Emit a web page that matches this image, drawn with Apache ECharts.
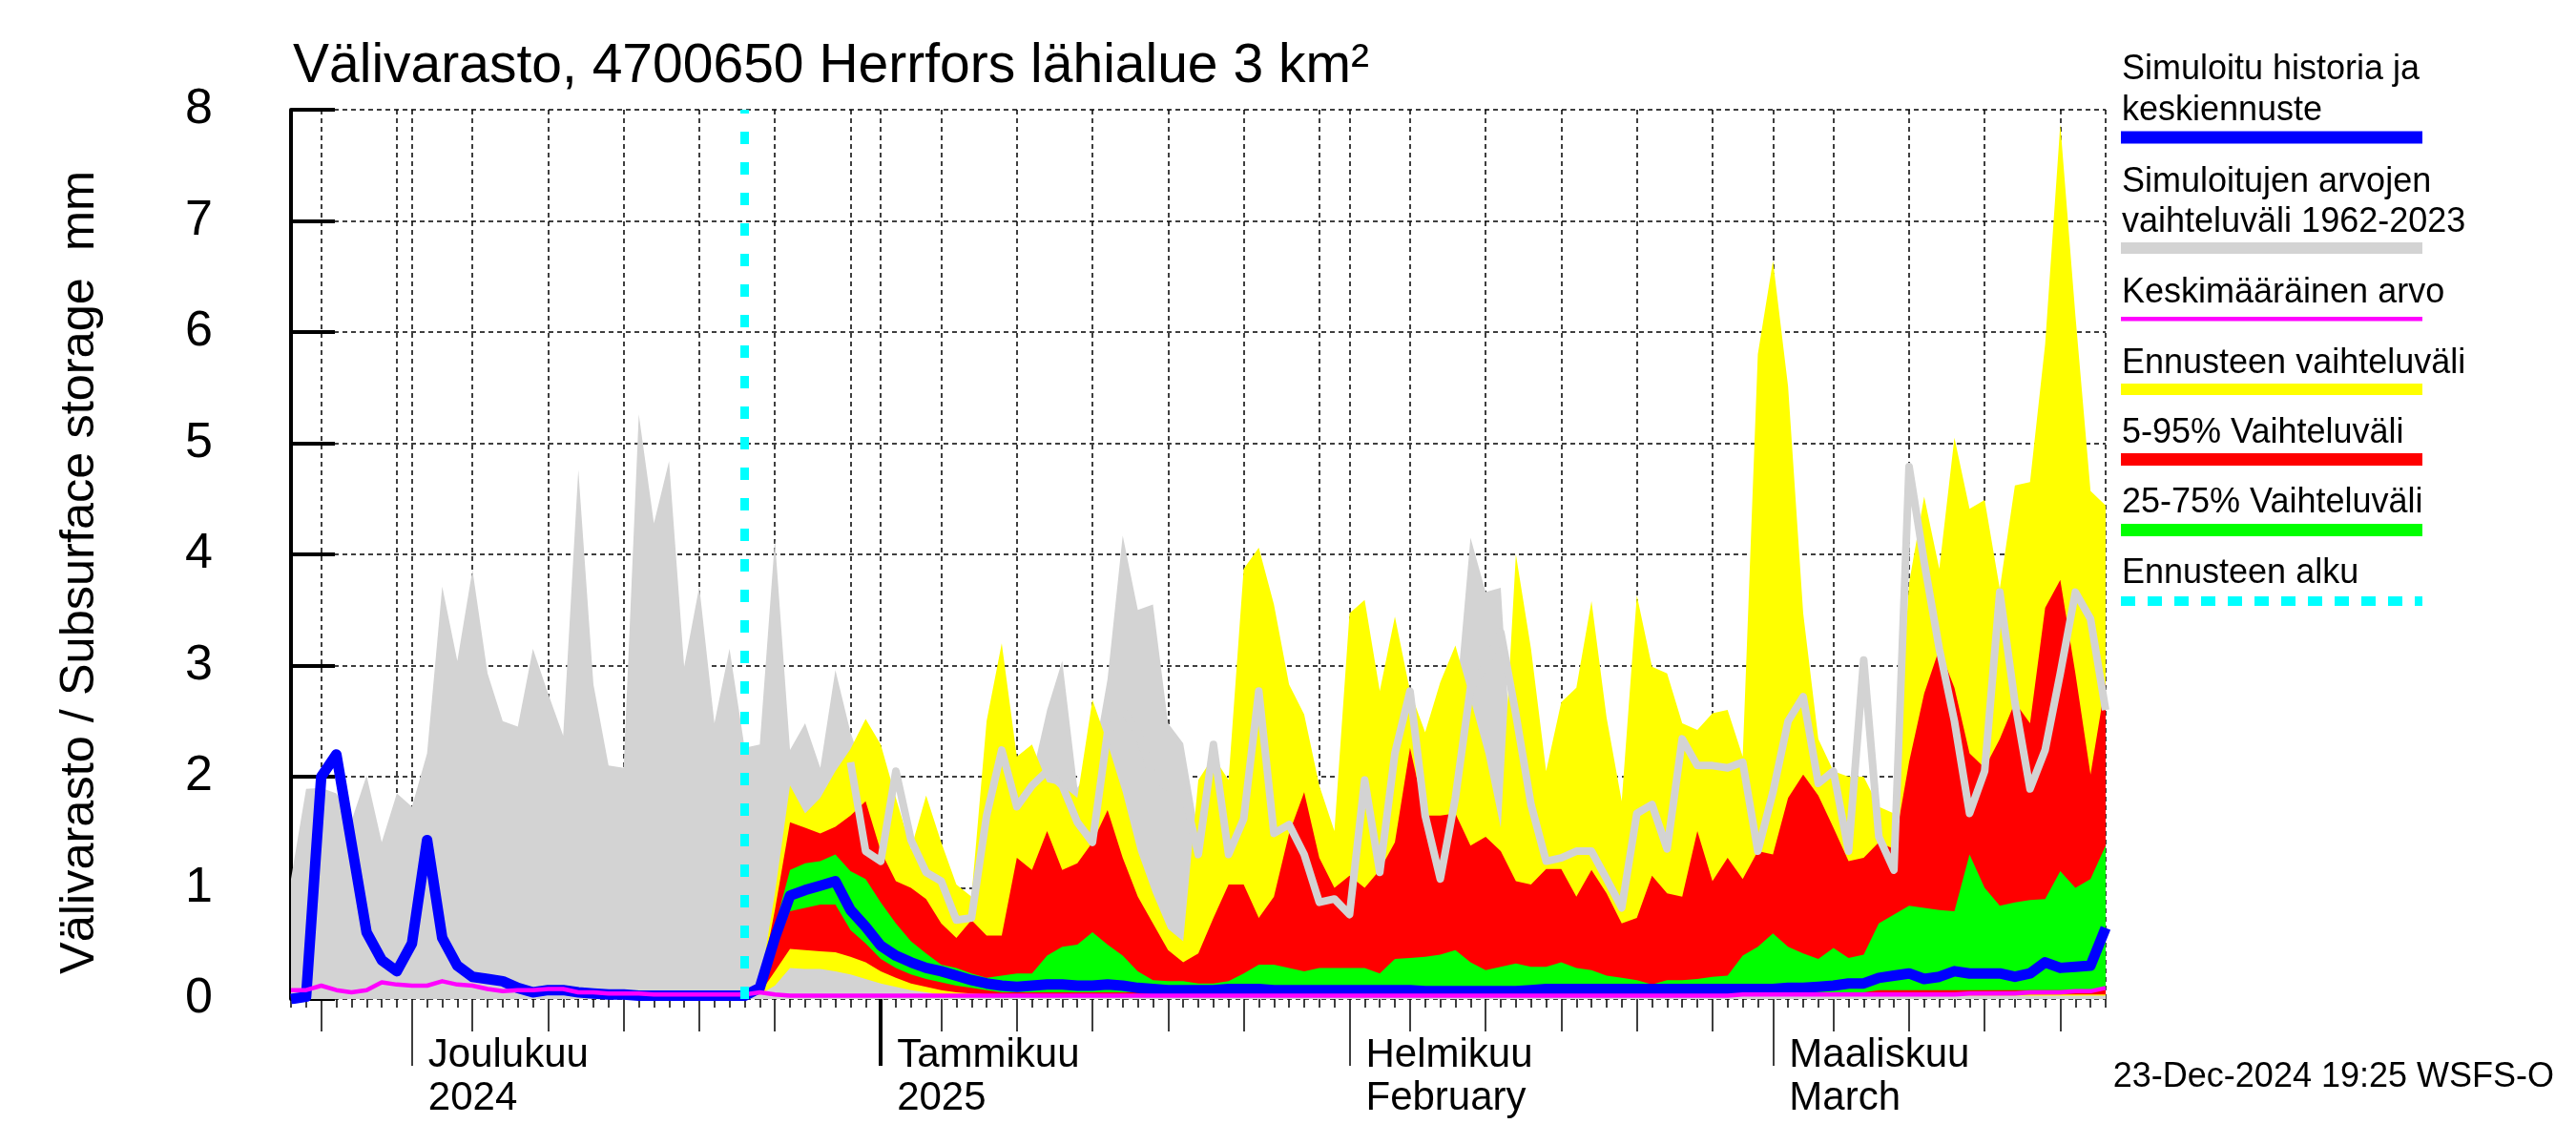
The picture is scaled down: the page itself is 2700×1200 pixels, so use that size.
<!DOCTYPE html>
<html><head><meta charset="utf-8">
<script src="https://cdn.jsdelivr.net/npm/echarts@6/dist/echarts.min.js"></script>
<style>html,body{margin:0;padding:0;background:#fff}#c{width:2700px;height:1200px}</style>
</head><body><div id="c"></div>
<script>
// ---------- categories ----------
const startYear = 2024, startMonth = 10, startDay = 23; // 23 Nov 2024
const dayCount = 121;                                   // to 23 Mar 2025
const forecastStart = '2024-12-23';
const forecastStartIndex = 30;
const lineStartIndex = 37;
const monthStarts = ['2024-12-01', '2025-01-01', '2025-02-01', '2025-03-01'];
const monthNames = ['Joulukuu\n2024', 'Tammikuu\n2025', 'Helmikuu\nFebruary', 'Maaliskuu\nMarch'];
const yearStart = '2025-01-01';
const yTicks = [0, 1, 2, 3, 4, 5, 6, 7, 8];

// ---------- series values (mm) ----------
// historical simulated range 1962-2023 (upper bound), daily from 23 Nov
const histMax = [1.08,1.89,1.9,1.85,1.6,2.01,1.41,1.85,1.73,2.21,
 3.71,3.04,3.86,2.93,2.5,2.45,3.15,2.75,2.37,4.76,
 2.83,2.1,2.08,5.26,4.28,4.84,2.99,3.71,2.48,3.15,
 2.26,2.29,4.13,2.24,2.48,2.08,2.96,2.4,2.0,1.6,
 1.5,1.2,1.2,1.0,0.8,0.8,1.5,1.8,1.8,2.0,
 2.6,3.04,1.9,2.1,2.88,4.17,3.5,3.55,2.48,2.3,
 1.5,1.5,1.5,2.0,2.0,2.0,2.0,1.8,1.5,1.2,
 2.0,2.0,2.0,2.0,2.0,2.0,2.0,2.6,4.15,3.66,
 3.7,1.5,1.5,1.5,1.5,1.5,1.5,1.5,1.5,1.5,
 1.5,1.5,1.5,1.5,1.5,1.5,1.5,1.5,1.5,1.5,
 1.5,1.5,1.5,1.5,1.5,1.5,1.5,1.5,2.0,2.0,
 2.0,2.0,2.0,2.0,2.0,2.0,2.0,2.0,2.0,2.0,
 2.0];

// light grey line in forecast period, from day index 37
const histLine = [2.13,1.33,1.24,2.05,1.43,1.14,1.06,0.71,0.73,1.65,
 2.24,1.73,1.92,2.05,1.92,1.59,1.41,2.4,2.6,2.4,
 2.0,1.9,1.9,1.3,2.29,1.3,1.62,2.77,1.49,1.57,
 1.3,0.87,0.9,0.76,1.97,1.14,2.21,2.77,1.65,1.08,
 1.81,2.8,3.0,3.3,2.56,1.75,1.24,1.27,1.33,1.33,
 1.08,0.82,1.67,1.75,1.35,2.34,2.1,2.1,2.08,2.13,
 1.33,1.86,2.5,2.72,1.94,2.05,1.33,3.05,1.46,1.16,
 4.79,3.93,3.15,2.5,1.67,2.05,3.66,2.67,1.89,2.24,
 2.93,3.66,3.42,2.6];

// forecast bands, from 23 Dec (index 30)
const yellowHigh = [0.03,0.12,0.95,1.92,1.67,1.81,2.05,2.25,2.52,2.29,
 1.81,1.35,1.83,1.41,1.03,0.92,2.5,3.2,2.18,2.29,
 1.95,1.92,1.81,2.69,2.3,1.86,1.33,0.95,0.63,0.52,
 1.97,2.18,1.97,3.87,4.06,3.55,2.83,2.56,1.92,1.51,
 3.47,3.59,2.77,3.44,2.77,2.4,2.85,3.18,2.7,2.2,
 1.54,4.0,3.15,2.05,2.67,2.8,3.58,2.53,1.78,3.63,
 2.99,2.93,2.48,2.42,2.57,2.6,2.18,5.8,6.64,5.51,
 3.47,2.34,2.05,2.0,2.0,1.73,1.67,3.74,4.52,3.87,
 5.05,4.41,4.49,3.69,4.62,4.65,5.89,7.87,6.15,4.57,
 4.44];
const yellowLow = [0.03,0.04,0.12,0.28,0.27,0.27,0.25,0.22,0.18,0.14,
 0.11,0.08,0.06,0.04,0.03,0.02,0.02,0.02,0.02,0.02,
 0.02,0.02,0.02,0.02,0.02,0.02,0.02,0.02,0.02,0.02,
 0.02,0.02,0.02,0.02,0.02,0.02,0.02,0.02,0.02,0.02,
 0.02,0.02,0.02,0.02,0.02,0.02,0.02,0.02,0.02,0.02,
 0.02,0.02,0.02,0.02,0.02,0.02,0.02,0.02,0.02,0.02,
 0.02,0.02,0.02,0.02,0.02,0.02,0.03,0.03,0.03,0.03,
 0.03,0.03,0.03,0.03,0.03,0.03,0.03,0.03,0.03,0.03,
 0.03,0.03,0.03,0.03,0.03,0.03,0.03,0.03,0.03,0.03,
 0.03];
const redHigh = [0.03,0.1,0.8,1.59,1.54,1.49,1.55,1.65,1.78,1.33,
 1.06,1.0,0.9,0.68,0.55,0.71,0.57,0.57,1.27,1.16,
 1.51,1.16,1.22,1.41,1.7,1.27,0.92,0.68,0.44,0.33,
 0.41,0.73,1.03,1.03,0.73,0.92,1.49,1.86,1.27,1.0,
 1.11,1.0,1.16,1.41,2.26,1.65,1.65,1.67,1.38,1.46,
 1.33,1.06,1.03,1.17,1.17,0.92,1.16,0.95,0.68,0.73,
 1.11,0.95,0.92,1.51,1.06,1.27,1.08,1.33,1.3,1.81,
 2.02,1.83,1.54,1.24,1.27,1.41,1.35,2.13,2.75,3.15,
 2.8,2.21,2.08,2.34,2.67,2.48,3.52,3.77,2.93,2.02,
 2.85];
const redLow = [0.03,0.05,0.25,0.45,0.44,0.43,0.42,0.38,0.33,0.25,
 0.19,0.14,0.11,0.08,0.06,0.05,0.04,0.03,0.03,0.03,
 0.03,0.03,0.03,0.03,0.03,0.03,0.03,0.03,0.03,0.03,
 0.03,0.03,0.03,0.03,0.03,0.03,0.03,0.03,0.03,0.03,
 0.03,0.03,0.03,0.03,0.03,0.03,0.03,0.03,0.03,0.03,
 0.03,0.03,0.03,0.03,0.03,0.03,0.03,0.03,0.03,0.03,
 0.03,0.03,0.03,0.03,0.03,0.03,0.04,0.04,0.04,0.04,
 0.04,0.04,0.04,0.04,0.04,0.04,0.04,0.04,0.04,0.04,
 0.04,0.04,0.04,0.04,0.04,0.04,0.04,0.04,0.04,0.04,
 0.04];
const greenHigh = [0.03,0.08,0.65,1.16,1.22,1.24,1.3,1.15,1.08,0.87,
 0.68,0.52,0.41,0.31,0.28,0.23,0.19,0.21,0.23,0.23,
 0.39,0.47,0.49,0.6,0.49,0.39,0.25,0.17,0.16,0.16,
 0.14,0.14,0.16,0.23,0.31,0.31,0.28,0.25,0.28,0.28,
 0.28,0.28,0.23,0.36,0.37,0.38,0.4,0.44,0.33,0.26,
 0.29,0.32,0.29,0.29,0.33,0.28,0.26,0.21,0.19,0.17,
 0.13,0.17,0.17,0.18,0.2,0.21,0.39,0.47,0.59,0.47,
 0.41,0.36,0.46,0.37,0.4,0.68,0.76,0.84,0.82,0.8,
 0.79,1.3,1.0,0.84,0.87,0.89,0.9,1.15,1.0,1.08,
 1.38];
const greenLow = [0.03,0.06,0.45,0.79,0.82,0.85,0.85,0.62,0.5,0.36,
 0.28,0.22,0.18,0.15,0.12,0.1,0.08,0.06,0.06,0.06,
 0.06,0.06,0.06,0.06,0.06,0.06,0.06,0.06,0.06,0.06,
 0.06,0.06,0.06,0.06,0.06,0.06,0.06,0.06,0.06,0.06,
 0.06,0.06,0.06,0.06,0.06,0.06,0.06,0.06,0.06,0.06,
 0.06,0.06,0.06,0.06,0.06,0.06,0.06,0.06,0.06,0.06,
 0.06,0.06,0.06,0.06,0.06,0.06,0.06,0.06,0.06,0.06,
 0.06,0.06,0.06,0.06,0.06,0.08,0.08,0.08,0.08,0.08,
 0.08,0.08,0.08,0.08,0.08,0.08,0.08,0.08,0.08,0.08,
 0.08];

// simulated history + mean forecast, daily from 23 Nov
const simulated = [0.0,0.02,2.0,2.2,1.4,0.6,0.35,0.25,0.5,1.43,
 0.55,0.3,0.2,0.18,0.16,0.1,0.06,0.08,0.08,0.06,
 0.05,0.04,0.04,0.03,0.03,0.03,0.03,0.03,0.03,0.03,
 0.03,0.1,0.55,0.93,0.98,1.02,1.06,0.8,0.65,0.48,
 0.39,0.33,0.28,0.25,0.21,0.17,0.14,0.12,0.11,0.12,
 0.13,0.13,0.12,0.12,0.13,0.12,0.1,0.09,0.08,0.08,
 0.08,0.08,0.09,0.09,0.09,0.08,0.08,0.08,0.08,0.08,
 0.08,0.08,0.08,0.08,0.08,0.07,0.07,0.07,0.07,0.07,
 0.07,0.07,0.08,0.09,0.09,0.09,0.09,0.09,0.09,0.09,
 0.09,0.09,0.09,0.09,0.09,0.09,0.09,0.09,0.09,0.1,
 0.1,0.11,0.12,0.14,0.14,0.19,0.21,0.23,0.18,0.2,
 0.25,0.23,0.23,0.23,0.2,0.23,0.33,0.28,0.29,0.3,
 0.64];

// long-term mean
const meanValue = [0.08,0.08,0.12,0.08,0.06,0.08,0.15,0.13,0.12,0.12,
 0.16,0.13,0.12,0.09,0.07,0.08,0.08,0.09,0.09,0.06,
 0.06,0.05,0.05,0.05,0.04,0.04,0.04,0.04,0.04,0.04,
 0.04,0.06,0.04,0.03,0.03,0.03,0.03,0.03,0.03,0.03,
 0.03,0.03,0.03,0.03,0.03,0.03,0.03,0.03,0.03,0.03,
 0.03,0.03,0.03,0.03,0.03,0.03,0.03,0.03,0.03,0.03,
 0.03,0.03,0.03,0.03,0.03,0.03,0.03,0.03,0.03,0.03,
 0.03,0.03,0.03,0.03,0.03,0.03,0.03,0.03,0.03,0.03,
 0.03,0.03,0.03,0.03,0.03,0.03,0.03,0.03,0.03,0.03,
 0.03,0.03,0.03,0.03,0.03,0.03,0.04,0.04,0.04,0.04,
 0.04,0.04,0.04,0.04,0.04,0.04,0.04,0.04,0.04,0.04,
 0.04,0.05,0.05,0.05,0.05,0.06,0.06,0.06,0.07,0.07,
 0.1];

// ---------- build ----------
const dates = [];
for (let i = 0; i < dayCount; i++) {
  const d = new Date(Date.UTC(startYear, startMonth, startDay + i));
  dates.push(d.toISOString().slice(0, 10));
}
const dom = v => +v.slice(8, 10);
const padTo = (arr, n) => new Array(n).fill('-').concat(arr);
const FONT = "'Liberation Sans', Arial, Helvetica, sans-serif";
const BLACK = '#000';
const dash = [5, 4];

function band(key, lo, hi, color) {
  const loP = padTo(lo, forecastStartIndex);
  const diff = padTo(hi.map((h, i) => +(h - lo[i]).toFixed(4)), forecastStartIndex);
  return [
    { type: 'line', stack: key, data: loP, symbol: 'none', lineStyle: { opacity: 0 }, silent: true },
    { type: 'line', stack: key, data: diff, symbol: 'none', lineStyle: { opacity: 0 },
      areaStyle: { color: color, opacity: 1 }, silent: true }
  ];
}

const baseX = {
  type: 'category', data: dates, boundaryGap: false, position: 'bottom',
  axisLine: { show: false }, axisLabel: { show: false }, splitLine: { show: false }
};

const option = {
  animation: false,
  backgroundColor: '#fff',
  textStyle: { fontFamily: FONT },
  grid: { left: 305, right: 493, top: 115, bottom: 153 },
  xAxis: [
    Object.assign({}, baseX, {
      axisTick: { show: true, interval: 0, length: 9, lineStyle: { color: BLACK, width: 1.5 } },
      splitLine: { show: true,
        interval: (i, v) => dom(v) % 5 === 0 || dom(v) === 1 || i === dates.length - 1,
        lineStyle: { color: BLACK, width: 1.5, type: dash } }
    }),
    Object.assign({}, baseX, {
      axisTick: { show: true, interval: (i, v) => dom(v) % 5 === 0 && dom(v) !== 30,
        length: 34, lineStyle: { color: BLACK, width: 1.5 } }
    }),
    Object.assign({}, baseX, {
      axisTick: { show: true, interval: (i, v) => monthStarts.indexOf(v) >= 0 && v !== yearStart,
        length: 70, lineStyle: { color: BLACK, width: 1.5 } },
      axisLabel: { show: true, interval: (i, v) => monthStarts.indexOf(v) >= 0,
        formatter: v => monthNames[monthStarts.indexOf(v)] || '',
        align: 'left', padding: [0, 0, 0, 17], margin: 37,
        fontSize: 42, lineHeight: 45, color: BLACK, fontFamily: FONT }
    }),
    Object.assign({}, baseX, {
      axisTick: { show: true, interval: (i, v) => v === yearStart,
        length: 70, lineStyle: { color: BLACK, width: 4 } }
    })
  ],
  yAxis: {
    type: 'value', min: 0, max: 8, interval: 1,
    axisLine: { show: true, lineStyle: { color: BLACK, width: 4 } },
    axisTick: { show: true, inside: true, length: 46, lineStyle: { color: BLACK, width: 4 } },
    axisLabel: { fontSize: 52, color: BLACK, margin: 82, padding: [0, 0, 12, 0], fontFamily: FONT,
      formatter: v => (yTicks.indexOf(v) >= 0 ? String(v) : '') },
    splitLine: { show: true, lineStyle: { color: BLACK, width: 1.5, type: dash } }
  },
  series: [
    { type: 'line', data: histMax, symbol: 'none', lineStyle: { opacity: 0 },
      areaStyle: { color: '#d3d3d3', opacity: 1 }, silent: true },
    ...band('yb', yellowLow, yellowHigh, '#ffff00'),
    ...band('rb', redLow, redHigh, '#ff0000'),
    { type: 'line', data: padTo(histLine, lineStartIndex), symbol: 'none',
      lineStyle: { color: '#d3d3d3', width: 8, join: 'round' }, silent: true },
    ...band('gb', greenLow, greenHigh, '#00ff00'),
    { type: 'line', data: simulated, symbol: 'none',
      lineStyle: { color: '#0000ff', width: 11, join: 'round' }, silent: true,
      markLine: { silent: true, symbol: ['none', 'none'], label: { show: false },
        lineStyle: { color: '#00ffff', width: 9, type: [13, 19] },
        data: [{ xAxis: forecastStart }] } },
    { type: 'line', data: meanValue, symbol: 'none',
      lineStyle: { color: '#ff00ff', width: 4.5, join: 'round' }, silent: true }
  ],
  graphic: []
};

// ---------- texts & legend ----------
const txt = (x, y, text, size, align, extra) => Object.assign({
  type: 'text', x: x, y: y, silent: true,
  style: { text: text, fontSize: size, fontFamily: FONT, fill: BLACK,
    textAlign: align || 'left', textVerticalAlign: 'middle' }
}, extra || {});
const rect = (y, h, color) => ({ type: 'rect', silent: true,
  shape: { x: 2223, y: y, width: 316, height: h }, style: { fill: color } });

option.graphic = [
  txt(307, 70, 'Välivarasto, 4700650 Herrfors lähialue 3 km²', 57),
  txt(84, 600, 'Välivarasto / Subsurface storage  mm', 50.5, 'center', { rotation: Math.PI / 2 }),
  txt(2677, 1129, '23-Dec-2024 19:25 WSFS-O', 36, 'right'),
  txt(2224, 73.5, 'Simuloitu historia ja', 36),
  txt(2224, 116, 'keskiennuste', 36),
  rect(137.5, 13, '#0000ff'),
  txt(2224, 191, 'Simuloitujen arvojen', 36),
  txt(2224, 233, 'vaihteluväli 1962-2023', 36),
  rect(254, 12, '#d3d3d3'),
  txt(2224, 307.5, 'Keskimääräinen arvo', 36),
  rect(332, 4.5, '#ff00ff'),
  txt(2224, 381, 'Ennusteen vaihteluväli', 36),
  rect(402, 12, '#ffff00'),
  txt(2224, 454, '5-95% Vaihteluväli', 36),
  rect(475, 13, '#ff0000'),
  txt(2224, 527, '25-75% Vaihteluväli', 36),
  rect(549, 13, '#00ff00'),
  txt(2224, 601, 'Ennusteen alku', 36),
  { type: 'line', silent: true, shape: { x1: 2223, y1: 630, x2: 2539, y2: 630 },
    style: { stroke: '#00ffff', lineWidth: 10, lineDash: [15, 13] } }
];

const chart = echarts.init(document.getElementById('c'), null, { renderer: 'canvas' });
chart.setOption(option);
</script>
</body></html>
